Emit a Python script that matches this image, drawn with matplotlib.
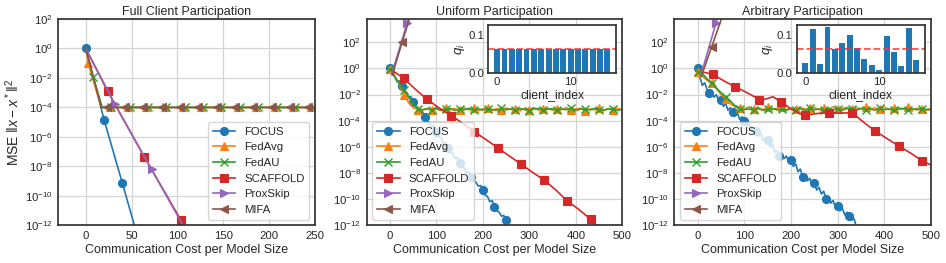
import numpy as np
import matplotlib
matplotlib.use('Agg')
import matplotlib.pyplot as plt
from matplotlib.ticker import FixedLocator

plt.rcParams.update({
    'font.family': ['Liberation Sans', 'DejaVu Sans'],
    'mathtext.fontset': 'custom',
    'mathtext.rm': 'Liberation Sans',
    'mathtext.it': 'Liberation Sans:italic',
    'mathtext.bf': 'Liberation Sans:bold',
    'mathtext.fallback': 'stixsans',
    'axes.edgecolor': '0.2',
    'axes.linewidth': 1.25,
    'axes.grid': True,
    'axes.axisbelow': True,
    'grid.color': '0.83',
    'grid.linewidth': 0.9,
    'xtick.major.size': 0, 'ytick.major.size': 0,
    'xtick.minor.size': 0, 'ytick.minor.size': 0,
    'xtick.major.pad': 4, 'ytick.major.pad': 4,
    'xtick.color': '0.15', 'ytick.color': '0.15',
    'axes.labelcolor': '0.15', 'text.color': '0.15',
    'xtick.labelsize': 8.2, 'ytick.labelsize': 8.2,
    'axes.titlesize': 9, 'axes.labelsize': 9,
    'legend.fontsize': 8.2,
})

methods = ['FOCUS', 'FedAvg', 'FedAU', 'SCAFFOLD', 'ProxSkip', 'MIFA']
colors = ['#1f77b4', '#ff7f0e', '#2ca02c', '#d62728', '#9467bd', '#8c564b']
markers = ['o', '^', 'x', 's', '>', '<']

# ---------------- Panel 1: Full client participation ----------------
p1_focus_x = [0, 20, 40, 53]
p1_focus_y = [1.0, 1.4e-5, 7e-10, 1e-12]
p1_fedavg_x = [0, 2.5, 17, 26, 46, 66, 86, 106, 126, 146, 166, 186, 206, 226, 246, 250]
p1_fedavg_y = [1.0, 1e-1, 1e-4, 1e-4, 1e-4, 1e-4, 1e-4, 1e-4, 1e-4, 1e-4, 1e-4, 1e-4, 1e-4, 1e-4, 1e-4, 1e-4]
p1_fedau_x = [0, 8, 18, 28, 48, 68, 88, 108, 128, 148, 168, 188, 208, 228, 248, 250]
p1_fedau_y = [1.0, 1.2e-2, 1e-4, 1e-4, 1e-4, 1e-4, 1e-4, 1e-4, 1e-4, 1e-4, 1e-4, 1e-4, 1e-4, 1e-4, 1e-4, 1e-4]
p1_scaffold_x = [0, 23.7, 63.7, 103.7, 106]
p1_scaffold_y = [1.0, 1.3e-3, 4.5e-8, 2.3e-12, 1e-12]
p1_proxskip_x = [0, 31.7, 71.7, 106]
p1_proxskip_y = [1.0, 1.7e-4, 6.3e-9, 1e-12]
p1_mifa_x = [0, 17, 22.6, 42.6, 62.6, 82.6, 102.6, 122.6, 142.6, 162.6, 182.6, 202.6, 222.6, 242.6, 250]
p1_mifa_y = [1.0, 1e-4, 1e-4, 1e-4, 1e-4, 1e-4, 1e-4, 1e-4, 1e-4, 1e-4, 1e-4, 1e-4, 1e-4, 1e-4, 1e-4]

# ---------------- Panel 2: Uniform participation (log10 MSE) ----------------
p2_focus_x = np.arange(0, 256, 5)
p2_focus_log = [0.0, -0.45, -0.6, -1.0, -0.95, -1.35, -1.7, -1.8, -2.2, -2.15,
                -2.55, -2.9, -3.0, -3.4, -3.3, -3.75, -4.0, -4.2, -4.45, -4.4,
                -4.85, -5.2, -5.3, -5.75, -5.65, -6.1, -6.4, -6.5, -6.9, -6.8,
                -7.2, -7.5, -7.6, -8.0, -7.9, -8.3, -8.6, -8.7, -9.0, -8.95,
                -9.3, -9.7, -9.8, -10.2, -10.1, -10.6, -10.9, -11.0, -11.3, -11.25,
                -11.6, -12.1]
p2_flat_x = np.arange(0, 501, 10)
p2_fedavg_log = [-0.05, -0.55, -1.2, -2.0, -2.6, -3.0, -3.15, -3.2, -3.05, -3.2,
                 -3.1, -3.22, -3.02, -3.15, -3.08, -3.2, -3.0, -3.18, -3.05, -3.22,
                 -3.1, -3.0, -3.2, -3.08, -3.18, -3.02, -3.15, -3.1, -3.22, -3.04,
                 -3.16, -3.0, -3.2, -3.1, -3.05, -3.2, -3.08, -3.15, -3.0, -3.2,
                 -3.1, -3.04, -3.22, -3.1, -3.16, -3.02, -3.2, -3.06, -3.15, -3.05,
                 -3.18]
p2_fedau_log = [-0.05, -0.6, -1.2, -1.65, -2.15, -2.7, -3.1, -3.15, -3.1, -3.18,
                -3.05, -3.2, -3.12, -3.08, -3.22, -3.1, -3.16, -3.05, -3.2, -3.1,
                -3.18, -3.08, -3.14, -3.2, -3.06, -3.16, -3.1, -3.2, -3.08, -3.15,
                -3.22, -3.1, -3.06, -3.18, -3.12, -3.08, -3.2, -3.1, -3.16, -3.06,
                -3.2, -3.12, -3.1, -3.18, -3.06, -3.15, -3.2, -3.1, -3.14, -3.2,
                -3.12]
p2_scaffold_x = [3, 30, 55, 80, 105, 132, 157, 182, 207, 232, 257, 282, 307, 332, 357, 382, 407, 432, 446]
p2_scaffold_log = [-0.1, -0.77, -1.6, -2.37, -3.0, -3.62, -4.2, -4.85, -5.45, -6.07,
                   -6.7, -7.32, -7.95, -8.54, -9.3, -10.15, -10.8, -11.55, -12.1]
p2_proxskip_x = [5, 37, 48]
p2_proxskip_log = [-0.3, 3.44, 4.8]
p2_mifa_x = [5, 26.6, 48]
p2_mifa_log = [-0.5, 2.03, 4.5]

# ---------------- Panel 3: Arbitrary participation (log10 MSE) ----------------
p3_focus_x = np.arange(0, 341, 5)
p3_focus_log = [0.0, -0.7, -1.3, -1.1, -1.6, -1.9, -1.75, -2.2, -2.0, -2.5,
                -2.4, -2.9, -2.7, -3.2, -3.0, -3.3, -3.6, -3.4, -3.9, -3.7,
                -4.0, -4.4, -4.2, -4.7, -4.5, -4.8, -5.2, -5.0, -5.5, -5.3,
                -5.5, -6.0, -5.8, -6.4, -6.3, -6.7, -6.5, -6.9, -6.7, -7.1,
                -7.0, -7.5, -7.3, -7.9, -7.7, -8.3, -8.1, -8.6, -8.4, -8.9,
                -8.8, -9.3, -9.1, -9.6, -9.4, -10.0, -9.8, -10.3, -10.1, -10.6,
                -10.5, -10.9, -10.7, -11.2, -11.0, -11.3, -11.6, -11.5, -12.1]
p3_flat_x = np.arange(0, 501, 10)
p3_fedavg_log = [-0.3, -0.6, -0.9, -1.15, -1.55, -2.0, -2.35, -2.7, -2.95, -3.05,
                 -3.1, -2.95, -3.12, -3.0, -3.15, -2.98, -3.1, -3.05, -2.95, -3.15,
                 -3.02, -3.1, -2.96, -3.12, -3.04, -2.98, -3.15, -3.0, -3.1, -2.95,
                 -3.12, -3.05, -2.98, -3.14, -3.0, -3.08, -2.96, -3.12, -3.02, -3.1,
                 -2.97, -3.15, -3.05, -3.0, -3.12, -2.98, -3.18, -3.04, -3.1, -3.2,
                 -3.15]
p3_fedau_log = [-0.25, -0.38, -0.8, -1.15, -1.5, -1.85, -2.2, -2.5, -2.85, -3.1,
                -3.15, -3.1, -3.18, -3.08, -3.2, -3.12, -3.06, -3.18, -3.1, -3.2,
                -3.08, -3.16, -3.1, -3.2, -3.06, -3.15, -3.12, -3.2, -3.08, -3.16,
                -3.1, -3.2, -3.06, -3.14, -3.18, -3.08, -3.15, -3.1, -3.2, -3.06,
                -3.16, -3.1, -3.2, -3.12, -3.06, -3.18, -3.1, -3.16, -3.08, -3.14,
                -3.1]
p3_scaffold_x = [8, 32, 56, 80, 100, 122, 132, 145, 161, 179, 200, 218, 229.5, 255,
                 281, 305, 331, 355, 380, 405, 431, 455, 481, 500]
p3_scaffold_log = [-0.26, -0.44, -0.95, -1.4, -1.75, -2.17, -2.42, -2.35, -2.17, -2.55,
                   -3.1, -3.44, -3.57, -3.45, -3.39, -3.42, -3.39, -4.1, -4.79, -5.35,
                   -5.94, -6.45, -7.06, -7.4]
p3_proxskip_x = [8, 39, 50]
p3_proxskip_log = [-0.4, 3.44, 4.8]
p3_mifa_x = [8, 30, 55]
p3_mifa_log = [-0.6, 1.65, 4.2]

# ---------------- Inset data: client participation probabilities ----------------
client_index = np.arange(16)
q_uniform = [0.0625, 0.0625, 0.0625, 0.0625, 0.0625, 0.0625, 0.0625, 0.0625,
             0.0625, 0.0625, 0.0625, 0.0625, 0.0625, 0.0625, 0.0625, 0.0625]
q_arbitrary = [0.026, 0.115, 0.025, 0.122, 0.063, 0.080, 0.101, 0.067,
               0.037, 0.022, 0.007, 0.097, 0.055, 0.018, 0.117, 0.033]
q_mean = 0.0625

# ---------------- Figure ----------------
fig = plt.figure(figsize=(9.46, 2.63), dpi=100)
ax1 = fig.add_axes([0.0616, 0.1433, 0.2714, 0.7844])
ax2 = fig.add_axes([0.3876, 0.1433, 0.2702, 0.7844])
ax3 = fig.add_axes([0.7128, 0.1433, 0.2714, 0.7844])

LW = 1.2
MS = 5.8


def draw(ax, x, y, i, marks):
    ax.plot(x, y, color=colors[i], marker=markers[i], lw=LW, ms=MS,
            mew=1.0 if markers[i] == 'x' else 0.8, markevery=marks, label=methods[i])


draw(ax1, p1_focus_x, p1_focus_y, 0, [0, 1, 2])
draw(ax1, p1_fedavg_x, p1_fedavg_y, 1, [1] + list(range(3, 15)))
draw(ax1, p1_fedau_x, p1_fedau_y, 2, [1] + list(range(3, 15)))
draw(ax1, p1_scaffold_x, p1_scaffold_y, 3, [1, 2, 3])
draw(ax1, p1_proxskip_x, p1_proxskip_y, 4, [1, 2])
draw(ax1, p1_mifa_x, p1_mifa_y, 5, list(range(2, 14)))

series2 = [
    (p2_focus_x, p2_focus_log, 5),
    (p2_flat_x, p2_fedavg_log, 3),
    (p2_flat_x, p2_fedau_log, 3),
    (p2_scaffold_x, p2_scaffold_log, [1, 3, 5, 7, 9, 11, 13, 15, 17]),
    (p2_proxskip_x, p2_proxskip_log, [1]),
    (p2_mifa_x, p2_mifa_log, [1]),
]
series3 = [
    (p3_focus_x, p3_focus_log, 5),
    (p3_flat_x, p3_fedavg_log, 3),
    (p3_flat_x, p3_fedau_log, 3),
    (p3_scaffold_x, p3_scaffold_log, [1, 3, 6, 9, 12, 14, 16, 18, 20, 22]),
    (p3_proxskip_x, p3_proxskip_log, [1]),
    (p3_mifa_x, p3_mifa_log, [1]),
]
for ax, ser in [(ax2, series2), (ax3, series3)]:
    for i, (x, lg, mk) in enumerate(ser):
        draw(ax, x, 10.0 ** np.asarray(lg), i, mk)

yt = [1e-12, 1e-10, 1e-8, 1e-6, 1e-4, 1e-2, 1e0, 1e2]
for ax in (ax1, ax2, ax3):
    ax.set_yscale('log')
    ax.yaxis.set_major_locator(FixedLocator(yt))
    ax.yaxis.set_minor_locator(FixedLocator([]))
    ax.set_xlabel('Communication Cost per Model Size', labelpad=2)
    for s in ax.spines.values():
        s.set_color('0.2')

ax1.set_ylim(1e-12, 1e2)
ax1.set_xlim(-30, 250)
ax1.set_xticks([0, 50, 100, 150, 200, 250])
ax1.set_ylabel(r'MSE $\Vert x - x^* \Vert^2$', fontsize=10, labelpad=2)
ax1.set_title('Full Client Participation', pad=3)
ax1.legend(loc='lower right', framealpha=0.8, edgecolor='0.8')

for ax, title in [(ax2, 'Uniform Participation'), (ax3, 'Arbitrary Participation')]:
    ax.set_ylim(1e-12, 6e3)
    ax.set_xlim(-50, 500)
    ax.set_xticks([0, 100, 200, 300, 400, 500])
    ax.set_title(title, pad=3)
    ax.legend(loc='lower left', framealpha=0.8, edgecolor='0.8')

for ax, q in [(ax2, q_uniform), (ax3, q_arbitrary)]:
    ins = ax.inset_axes([0.476, 0.738, 0.50, 0.233])
    ins.bar(client_index, q, color=colors[0], width=0.8)
    ins.axhline(q_mean, color='#ff3333', ls='--', lw=1.3, alpha=0.85)
    ins.set_ylim(0, 0.126)
    ins.set_yticks([0.0, 0.1])
    ins.set_yticklabels(['0.0', '0.1'])
    ins.set_xticks([0, 10])
    ins.grid(False)
    ins.set_facecolor('white')
    ins.set_xlabel('client_index', fontsize=8.7, labelpad=1)
    ins.set_ylabel('$q_i$', fontsize=9.5, labelpad=1)
    ins.tick_params(labelsize=8.2, pad=3)
    for s in ins.spines.values():
        s.set_color('0.2')
        s.set_linewidth(1.25)

fig.savefig('out.png', dpi=100)
